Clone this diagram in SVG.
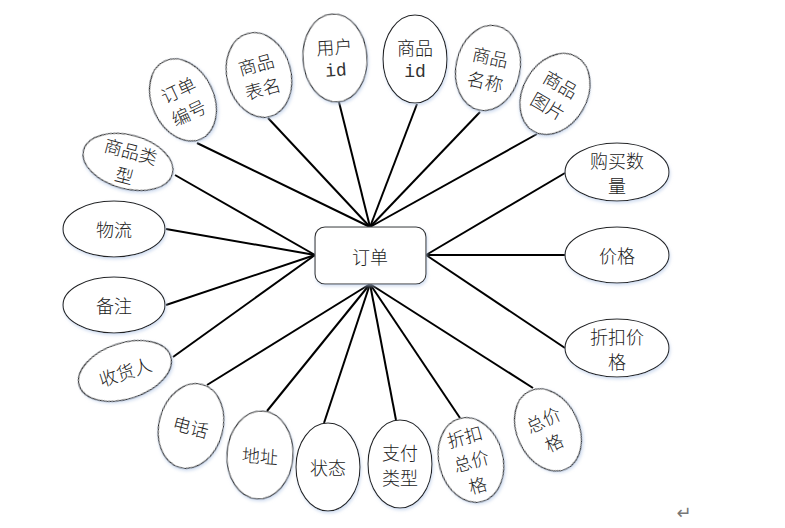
<svg xmlns="http://www.w3.org/2000/svg" width="785" height="528" viewBox="0 0 785 528">
<defs>
<filter id="sh" x="-20%" y="-20%" width="140%" height="140%">
<feDropShadow dx="1" dy="2" stdDeviation="1.5" flood-color="#b8cbe8" flood-opacity="0.6"/>
</filter>
<style>
.e{fill:#fff;stroke:#222;stroke-width:1.1;filter:url(#sh)}
.r{fill:#fff;stroke:#333;stroke-width:1.1;filter:url(#sh)}
.t{font-family:"Noto Sans CJK SC","Noto Sans",sans-serif;font-size:18px;font-weight:300;fill:#222;text-anchor:middle;dominant-baseline:central}
.m{font-family:"Liberation Mono",monospace;font-size:18px;font-weight:normal;fill:#333;text-anchor:middle;dominant-baseline:central}
.c line{stroke:#000;stroke-width:2}
</style>
</defs>
<rect width="785" height="528" fill="#fff"/>
<g id="connectors" class="c">
<line x1="370" y1="227" x2="197" y2="143"/>
<line x1="370" y1="227" x2="268" y2="118"/>
<line x1="370" y1="227" x2="339" y2="102"/>
<line x1="370" y1="227" x2="417" y2="104"/>
<line x1="370" y1="227" x2="480" y2="112"/>
<line x1="370" y1="227" x2="537" y2="134"/>
<line x1="426" y1="255" x2="565" y2="173"/>
<line x1="426" y1="255" x2="565" y2="255"/>
<line x1="426" y1="255" x2="565" y2="348"/>
<line x1="370" y1="284" x2="533" y2="388"/>
<line x1="370" y1="284" x2="460" y2="418"/>
<line x1="370" y1="284" x2="396" y2="420"/>
<line x1="370" y1="284" x2="324" y2="423"/>
<line x1="370" y1="284" x2="267" y2="411"/>
<line x1="370" y1="284" x2="207" y2="385"/>
<line x1="315" y1="255" x2="173" y2="357"/>
<line x1="315" y1="255" x2="166" y2="305"/>
<line x1="315" y1="255" x2="166" y2="229"/>
<line x1="315" y1="255" x2="175" y2="175"/>
</g>
<g id="order">
<rect class="r" x="315" y="227" width="111" height="57" rx="10"/>
<text class="t" x="370" y="256">订单</text>
</g>
<g id="orderNo" transform="translate(183,100) rotate(-25)">
<ellipse class="e" rx="31" ry="43"/>
<text class="t" y="-12">订单</text><text class="t" y="13">编号</text>
</g>
<g id="tableName" transform="translate(259,75) rotate(-15)">
<ellipse class="e" rx="32" ry="43"/>
<text class="t" y="-12">商品</text><text class="t" y="13">表名</text>
</g>
<g id="userId" transform="translate(335,58) rotate(-4)">
<ellipse class="e" rx="32" ry="44"/>
<text class="t" y="-12">用户</text><text class="m" y="13">id</text>
</g>
<g id="goodsId" transform="translate(415,59)">
<ellipse class="e" rx="32" ry="44"/>
<text class="t" y="-12">商品</text><text class="m" y="13">id</text>
</g>
<g id="goodsName" transform="translate(488,68) rotate(12)">
<ellipse class="e" rx="32" ry="43"/>
<text class="t" y="-12">商品</text><text class="t" y="13">名称</text>
</g>
<g id="goodsPic" transform="translate(555,94) rotate(30)">
<ellipse class="e" rx="32" ry="43"/>
<text class="t" y="-12">商品</text><text class="t" y="13">图片</text>
</g>
<g id="goodsType" transform="translate(128,162) rotate(15)">
<ellipse class="e" rx="46" ry="27"/>
<text class="t" y="-12">商品类</text><text class="t" y="13">型</text>
</g>
<g id="logistics" transform="translate(114,229)">
<ellipse class="e" rx="51" ry="28"/>
<text class="t">物流</text>
</g>
<g id="remark" transform="translate(114,305)">
<ellipse class="e" rx="51" ry="28"/>
<text class="t">备注</text>
</g>
<g id="receiver" transform="translate(125,371) rotate(-18)">
<ellipse class="e" rx="48" ry="28"/>
<text class="t">收货人</text>
</g>
<g id="phone" transform="translate(191,426) rotate(15)">
<ellipse class="e" rx="32" ry="43"/>
<text class="t">电话</text>
</g>
<g id="address" transform="translate(260,455) rotate(4)">
<ellipse class="e" rx="33" ry="44"/>
<text class="t">地址</text>
</g>
<g id="status" transform="translate(328,467)">
<ellipse class="e" rx="32" ry="44"/>
<text class="t">状态</text>
</g>
<g id="payType" transform="translate(400,464)">
<ellipse class="e" rx="32" ry="44"/>
<text class="t" y="-12">支付</text><text class="t" y="13">类型</text>
</g>
<g id="discountTotal" transform="translate(471,460) rotate(-15)">
<ellipse class="e" rx="32" ry="43"/>
<text class="t" y="-25">折扣</text><text class="t" y="0">总价</text><text class="t" y="25">格</text>
</g>
<g id="total" transform="translate(548,430) rotate(-25)">
<ellipse class="e" rx="31" ry="43"/>
<text class="t" y="-12">总价</text><text class="t" y="13">格</text>
</g>
<g id="quantity" transform="translate(617,172)">
<ellipse class="e" rx="52" ry="29"/>
<text class="t" y="-12">购买数</text><text class="t" y="13">量</text>
</g>
<g id="price" transform="translate(617,255)">
<ellipse class="e" rx="52" ry="28"/>
<text class="t">价格</text>
</g>
<g id="discountPrice" transform="translate(617,348)">
<ellipse class="e" rx="52" ry="29"/>
<text class="t" y="-12">折扣价</text><text class="t" y="13">格</text>
</g>
<text x="684" y="519" font-family="DejaVu Sans,sans-serif" font-size="18" fill="#777" text-anchor="middle">↵</text>
</svg>
